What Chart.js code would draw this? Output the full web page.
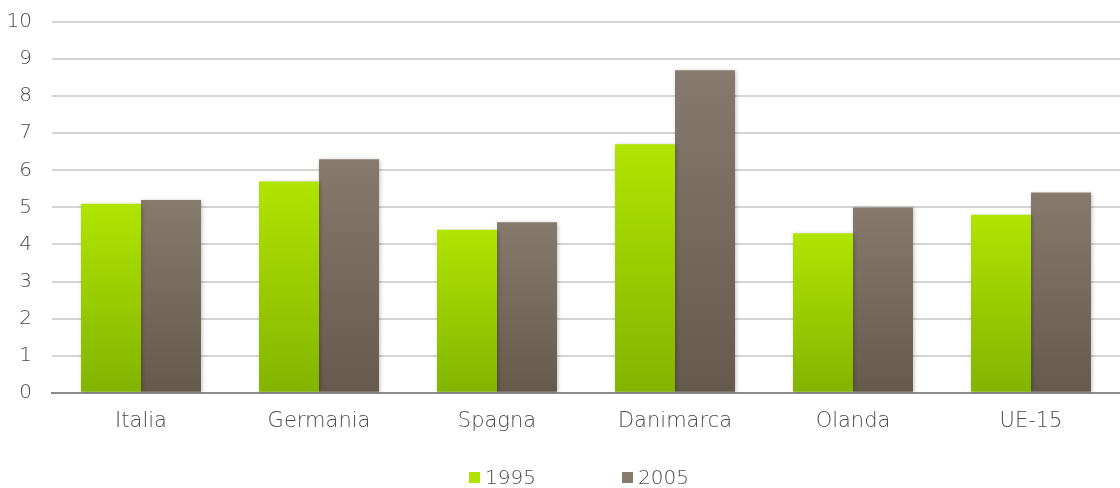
<!DOCTYPE html>
<html lang="it">
<head>
<meta charset="UTF-8">
<title>1995 vs 2005</title>
<script src="https://cdn.jsdelivr.net/npm/chart.js"></script>
<style>
    body { margin: 0; background: #fff; font-family: 'DejaVu Sans', sans-serif; }
    .wrap { position: relative; width: 1120px; height: 488px; }
    #legend {
        position: absolute; left: 38px; right: 0; top: 465px;
        display: flex; justify-content: center; gap: 86px;
        color: #4a4a4a; font-size: 20px; line-height: 24px; font-weight: 300;
    }
    #legend span.box { display: inline-block; width: 11px; height: 11px; margin-right: 5px; vertical-align: 1px; }
</style>
</head>
<body>
<div class="wrap">
    <canvas id="chart" width="1120" height="488"></canvas>
    <div id="legend"></div>
</div>
<script>
// data
const categories = ['Italia', 'Germania', 'Spagna', 'Danimarca', 'Olanda', 'UE-15'];
const values1995 = [5.1, 5.7, 4.4, 6.7, 4.3, 4.8];
const values2005 = [5.2, 6.3, 4.6, 8.7, 5.0, 5.4];
const seriesNames = ['1995', '2005'];
const yTicks = [0, 1, 2, 3, 4, 5, 6, 7, 8, 9, 10];

const greenTop = '#b0e400', greenBottom = '#82b400';
const brownTop = '#857a6b', brownBottom = '#655a4b';
const textColor = '#4a4a4a';

// gradient per bar, from its top down to the zero line
function barGradient(top, bottom) {
    return function (context) {
        const chart = context.chart;
        const y = chart.scales.y;
        if (context.type !== 'data' || !y) return top;
        const y0 = y.getPixelForValue(0);
        const y1 = y.getPixelForValue(context.raw);
        if (!isFinite(y0) || !isFinite(y1) || y0 === y1) return top;
        const g = chart.ctx.createLinearGradient(0, y1, 0, y0);
        g.addColorStop(0, top);
        g.addColorStop(1, bottom);
        return g;
    };
}

// soft shadow around the bars
const barShadow = {
    id: 'barShadow',
    beforeDatasetsDraw(chart) {
        const ctx = chart.ctx;
        ctx.save();
        ctx.shadowColor = 'rgba(0,0,0,0.25)';
        ctx.shadowBlur = 4;
        ctx.shadowOffsetX = 1;
        ctx.shadowOffsetY = 1;
    },
    afterDatasetsDraw(chart) {
        chart.ctx.restore();
    }
};

const yFont = { family: 'DejaVu Sans', size: 20, weight: 300 };
const xFont = { family: 'DejaVu Sans', size: 21, weight: 300 };

const chart = new Chart(document.getElementById('chart'), {
    type: 'bar',
    data: {
        labels: categories,
        datasets: [
            { label: seriesNames[0], data: values1995, backgroundColor: barGradient(greenTop, greenBottom), legendColor: greenTop },
            { label: seriesNames[1], data: values2005, backgroundColor: barGradient(brownTop, brownBottom), legendColor: brownTop }
        ]
    },
    options: {
        responsive: false,
        animation: false,
        layout: { padding: { top: 22, right: 0, bottom: 38, left: 0 } },
        datasets: { bar: { barPercentage: 1, categoryPercentage: 0.674 } },
        plugins: {
            legend: { display: false },
            tooltip: { enabled: false }
        },
        scales: {
            x: {
                grid: { display: false, drawTicks: false },
                border: { color: '#8c8c8c', width: 2 },
                ticks: { color: textColor, font: xFont, padding: 16 }
            },
            y: {
                min: 0,
                max: 10,
                afterBuildTicks(axis) { axis.ticks = yTicks.map(v => ({ value: v })); },
                afterFit(axis) { axis.width = 52; axis.paddingTop = 0; },
                grid: { color: '#d4d4d4', lineWidth: 2, drawTicks: false },
                border: { display: false },
                ticks: { color: textColor, font: yFont, padding: 20 }
            }
        }
    },
    plugins: [barShadow]
});

// legend as html, built from the datasets
const legend = document.getElementById('legend');
chart.data.datasets.forEach(ds => {
    const item = document.createElement('div');
    item.innerHTML = '<span class="box" style="background:' + ds.legendColor + '"></span>' + ds.label;
    legend.appendChild(item);
});
</script>
</body>
</html>
